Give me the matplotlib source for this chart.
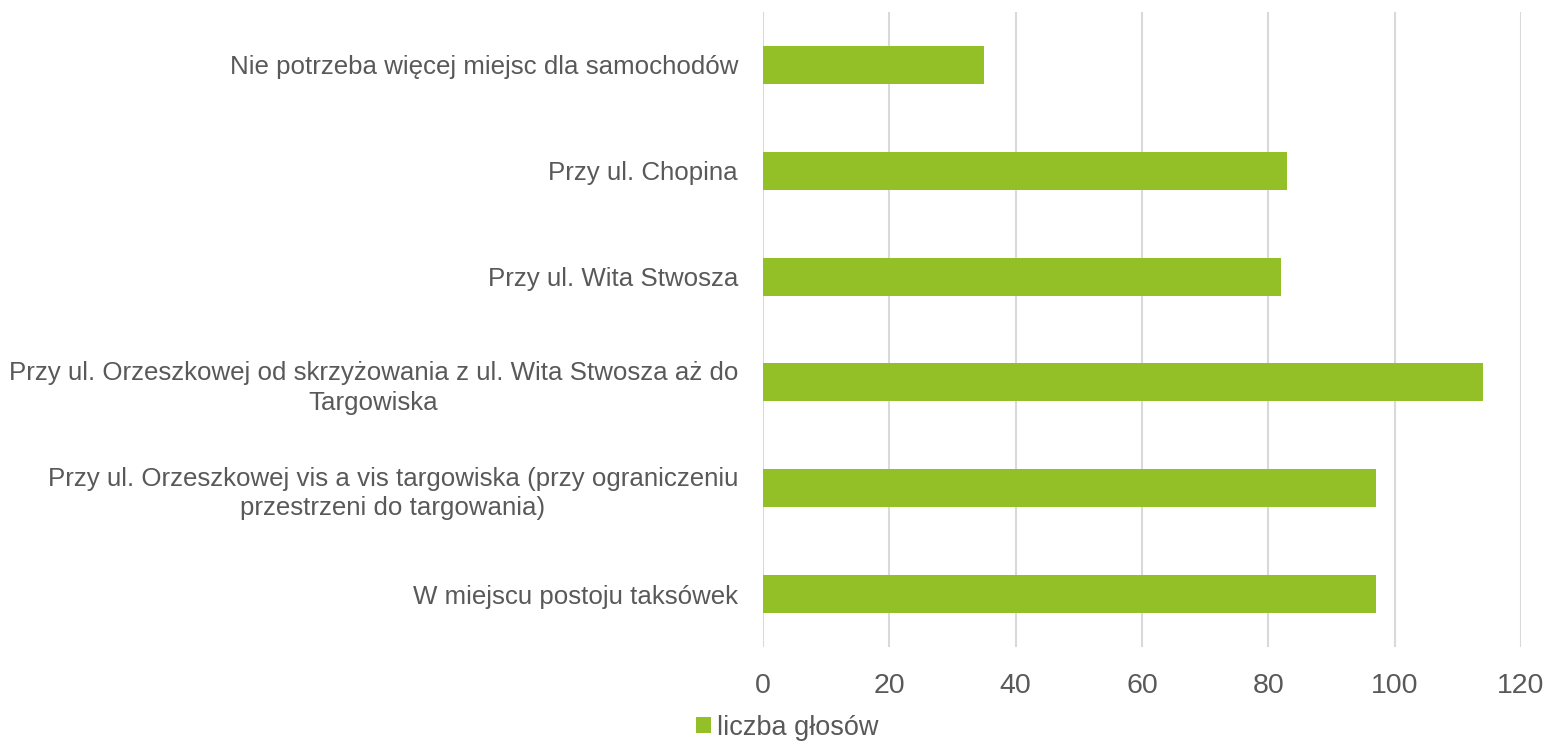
import numpy as np
import matplotlib.pyplot as plt

categories = [
    "W miejscu postoju taksówek",
    "Przy ul. Orzeszkowej vis a vis targowiska (przy ograniczeniu\nprzestrzeni do targowania)",
    "Przy ul. Orzeszkowej od skrzyżowania z ul. Wita Stwosza aż do\nTargowiska",
    "Przy ul. Wita Stwosza",
    "Przy ul. Chopina",
    "Nie potrzeba więcej miejsc dla samochodów",
]
votes = [97, 97, 114, 82, 83, 35]
series_name = "liczba głosów"
xticks = [0, 20, 40, 60, 80, 100, 120]

grey = "#595959"
green = "#92C026"

plt.rcParams['font.family'] = ['Liberation Sans', 'DejaVu Sans']

fig = plt.figure(figsize=(15.5, 7.5), dpi=100)
ax = fig.add_axes([0.4923, 0.1373, 0.4890, 0.8467])

y = np.arange(len(categories))
ax.barh(y, votes, height=0.36, color=green, label=series_name, zorder=3)

ax.set_xlim(0, 120)
ax.set_ylim(-0.5, len(categories) - 0.5)
ax.set_xticks(xticks)
ax.set_xticklabels([str(t) for t in xticks], fontsize=20.5, color=grey)
ax.set_yticks(y)
ax.set_yticklabels(categories, fontsize=18.6, color=grey, ha='right')
ax.tick_params(axis='y', length=0, pad=18)
ax.tick_params(axis='x', length=0, pad=19)

ax.grid(axis='x', color='#d9d9d9', linewidth=1.5, zorder=0)
for s in ax.spines.values():
    s.set_visible(False)

for lbl in ax.get_yticklabels():
    lbl.set_multialignment('center')
    lbl.set_linespacing(1.3)

leg = fig.legend(loc='lower center', bbox_to_anchor=(0.508, -0.02), frameon=False,
                 fontsize=19.5, handlelength=0.55, handleheight=0.55, handletextpad=0.2,
                 labelcolor=grey)

fig.savefig("out.png", dpi=100)
